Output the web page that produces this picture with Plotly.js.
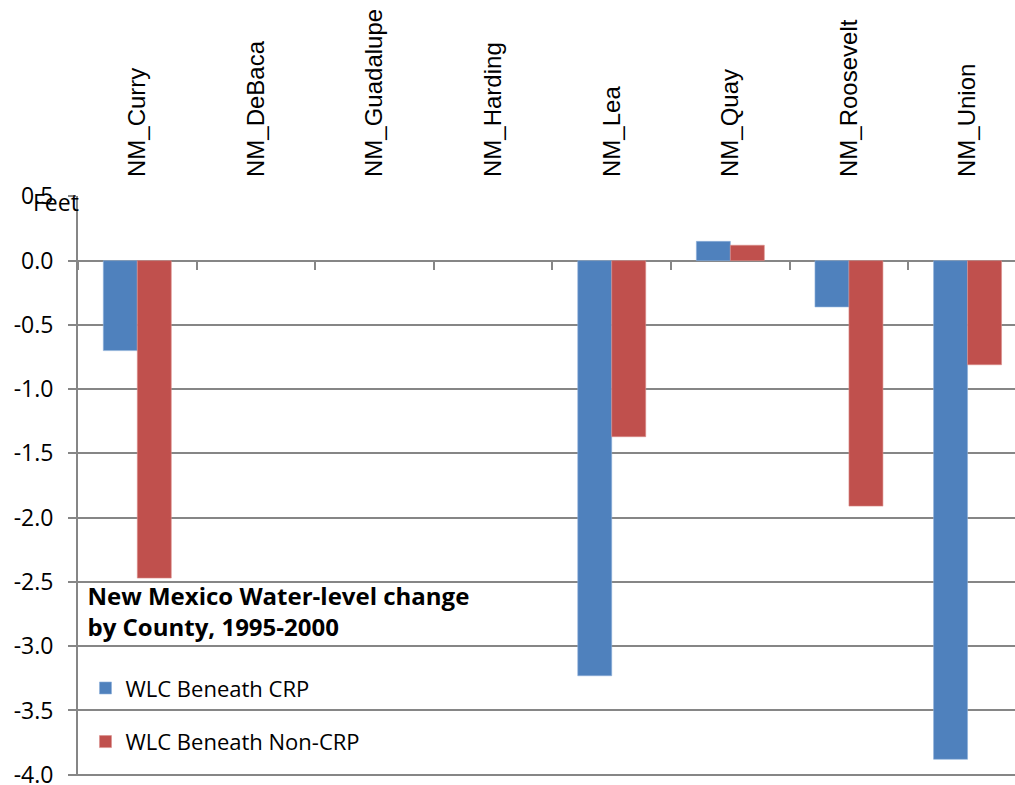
<!DOCTYPE html>
<html>
<head>
<meta charset="utf-8">
<script src="https://cdn.plot.ly/plotly-3.0.1.min.js"></script>
<style>
  body { margin: 0; padding: 0; background: #fff; overflow: hidden; }
  #chart { width: 1015px; height: 785px; }
</style>
</head>
<body>
<div id="chart"></div>
<script>
    // County data, feet of water-level change 1995-2000
    const counties = ['NM_Curry', 'NM_DeBaca', 'NM_Guadalupe', 'NM_Harding',
                      'NM_Lea', 'NM_Quay', 'NM_Roosevelt', 'NM_Union'];
    const wlcCrp = [-0.70, null, null, null, -3.23, 0.15, -0.36, -3.88];
    const wlcNonCrp = [-2.47, null, null, null, -1.37, 0.12, -1.91, -0.81];
    const yTicks = [0.5, 0.0, -0.5, -1.0, -1.5, -2.0, -2.5, -3.0, -3.5, -4.0];

    const font = 'Open Sans, Liberation Sans, sans-serif';
    const catFont = 'Liberation Sans, Arial, sans-serif';
    const gridColor = '#868686';

    const traces = [{
        x: counties,
        y: wlcCrp,
        type: 'bar',
        name: 'WLC Beneath CRP',
        legendgroup: 'a',
        marker: { color: '#4F81BD', line: { color: '#8DB0DA', width: 0.6 } }
    }, {
        x: counties,
        y: wlcNonCrp,
        type: 'bar',
        name: 'WLC Beneath Non-CRP',
        legendgroup: 'b',
        marker: { color: '#C0504D', line: { color: '#DA8E8C', width: 0.6 } }
    }, {
        // empty trace so the second x axis (zero-line ticks) is drawn
        x: counties,
        y: counties.map(() => null),
        type: 'bar',
        xaxis: 'x2',
        showlegend: false,
        hoverinfo: 'skip'
    }];

    const layout = {
        width: 1015,
        height: 785,
        margin: { t: 196, b: 9, l: 78, r: 0 },
        paper_bgcolor: '#fff',
        plot_bgcolor: '#fff',
        font: { family: font, size: 22, color: '#000' },
        barmode: 'group',
        bargap: 0.427,
        bargroupgap: 0,
        xaxis: {
            type: 'category',
            categoryarray: counties,
            range: [-0.5, 7.4],
            side: 'top',
            tickangle: -90,
            ticks: '',
            ticklabelstandoff: 18,
            showgrid: false,
            showline: false,
            zeroline: false,
            tickfont: { family: catFont, size: 24, color: '#000' }
        },
        // second x axis only draws the category tick marks on the zero line
        xaxis2: {
            type: 'category',
            categoryarray: counties,
            matches: 'x',
            overlaying: 'x',
            anchor: 'free',
            position: 4.01 / 4.513,
            side: 'bottom',
            tickson: 'boundaries',
            ticks: 'outside',
            ticklen: 8,
            tickwidth: 2,
            tickcolor: gridColor,
            showticklabels: false,
            showgrid: false,
            showline: false,
            zeroline: false
        },
        yaxis: {
            range: [-4.01, 0.503],
            tickmode: 'array',
            tickvals: yTicks,
            ticktext: yTicks.map(v => v.toFixed(1)),
            ticklabeloverflow: 'allow',
            ticks: 'outside',
            ticklen: 8,
            tickwidth: 2,
            tickcolor: gridColor,
            showgrid: true,
            gridcolor: gridColor,
            gridwidth: 2,
            zeroline: true,
            zerolinecolor: gridColor,
            zerolinewidth: 2,
            showline: true,
            linecolor: gridColor,
            linewidth: 2,
            ticklabelstandoff: 10,
            tickfont: { family: font, size: 23, color: '#000' }
        },
        showlegend: true,
        legend: {
            x: 0.008,
            y: 0.349,
            xanchor: 'left',
            yanchor: 'top',
            bgcolor: 'rgba(0,0,0,0)',
            traceorder: 'grouped',
            tracegroupgap: 22,
            font: { family: font, size: 22, color: '#000' },
            title: {
                text: '<b>New Mexico Water-level change<br>by County, 1995-2000</b>' +
                      '<br><span style="font-size:14px"> </span>',
                side: 'top',
                font: { family: font, size: 24, color: '#000' }
            }
        },
        annotations: [{
            text: 'Feet',
            xref: 'paper', yref: 'paper',
            x: 0, y: 1,
            xanchor: 'right', yanchor: 'middle',
            xshift: 3, yshift: -6,
            showarrow: false,
            font: { family: font, size: 23, color: '#000' }
        }]
    };

    Plotly.newPlot('chart', traces, layout, { displayModeBar: false, staticPlot: true });
</script>
</body>
</html>
